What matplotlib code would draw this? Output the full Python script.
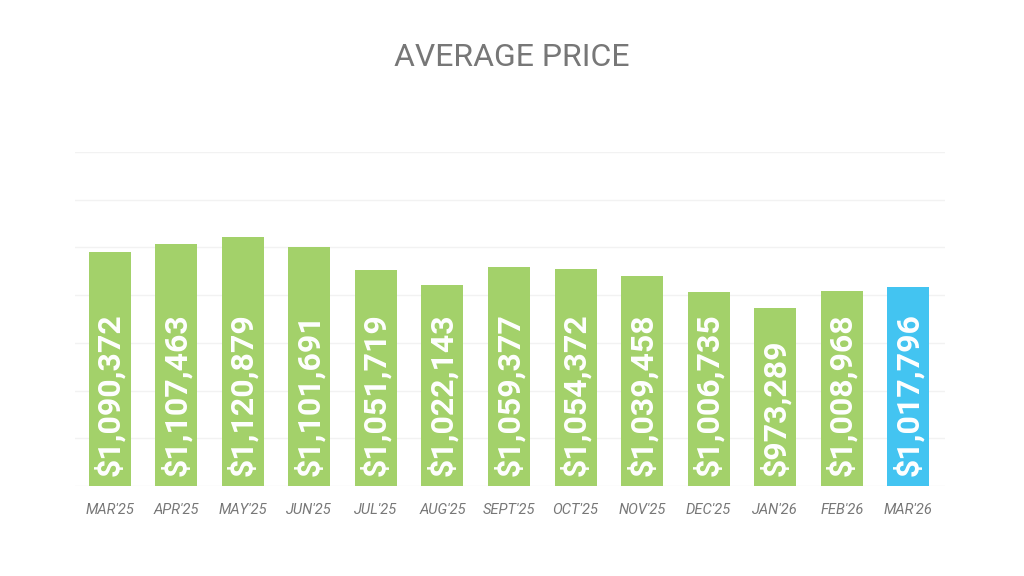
import matplotlib
matplotlib.use("Agg")
import matplotlib.pyplot as plt

months = ["MAR'25","APR'25","MAY'25","JUN'25","JUL'25","AUG'25","SEPT'25","OCT'25","NOV'25","DEC'25","JAN'26","FEB'26","MAR'26"]
prices = [1090372,1107463,1120879,1101691,1051719,1022143,1059377,1054372,1039458,1006735,973289,1008968,1017796]

plt.rcParams['font.family'] = ['Roboto', 'DejaVu Sans']
fig = plt.figure(figsize=(10.24, 5.76), dpi=100)
ax = fig.add_axes([75/1024, 1-486/576, 870/1024, 334/576])
colors = ['#a3d16a'] * (len(prices) - 1) + ['#43c4f1']
x = range(len(prices))
bars = ax.bar(x, prices, width=0.63, color=colors, zorder=2)
ax.set_ylim(600000, 1300000)
ax.set_xlim(-0.52, len(prices) - 0.45)
ax.set_yticks(range(600000, 1300001, 100000))
ax.grid(axis='y', color='#f2f2f2', linewidth=1, zorder=0)
ax.tick_params(axis='y', left=False, labelleft=False)
ax.tick_params(axis='x', bottom=False, pad=9)
ax.set_xticks(list(x))
ax.set_xticklabels(months, fontsize=10.5, style='italic', color='#777777')
for s in ax.spines.values():
    s.set_visible(False)
for b, v in zip(bars, prices):
    t = ax.text(b.get_x() + b.get_width() / 2, 620000, f"${v:,}", rotation=90,
                ha='center', va='bottom', color='white', fontsize=23, fontweight='bold', zorder=3)
    t.set_clip_path(b)
fig.text(0.5, 1 - 58/576, "AVERAGE PRICE", ha='center', va='center', fontsize=23, color='#777777')
fig.savefig("out.png", dpi=100, facecolor='white')
